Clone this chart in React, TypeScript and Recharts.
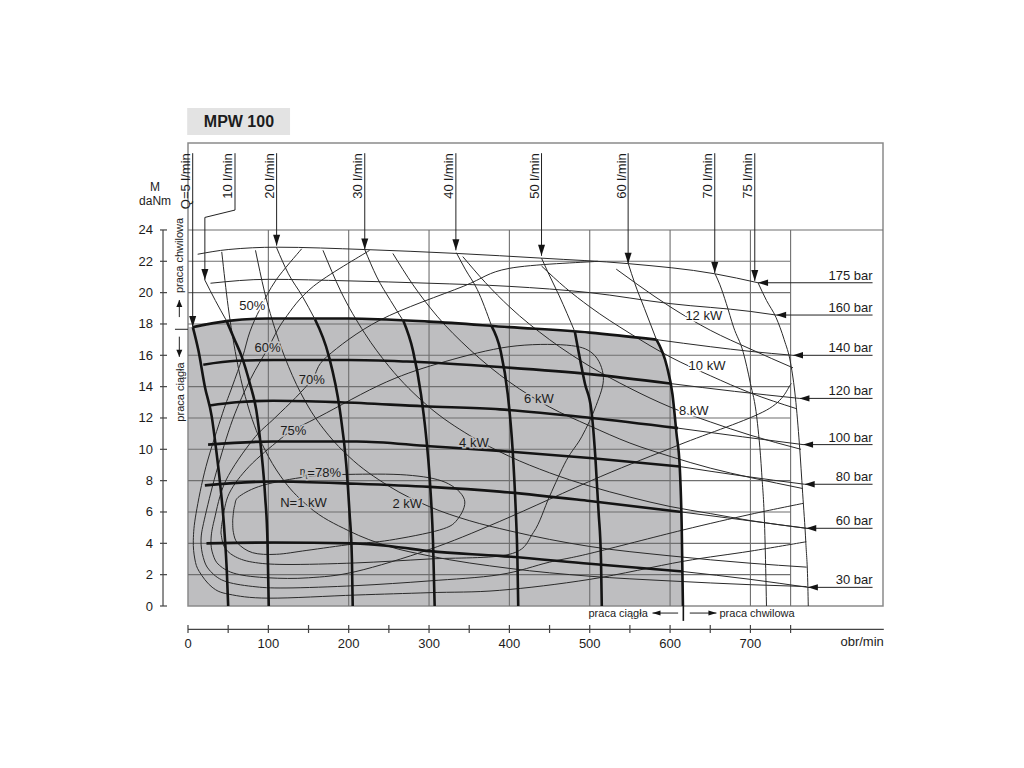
import React from 'react';
import {
  ComposedChart,
  XAxis,
  YAxis,
  Line,
  Area,
  ReferenceLine,
  ReferenceDot,
  ReferenceArea,
} from 'recharts';

type P = [number, number];

// ---------- axes / grid ----------
const xTicks = [0, 50, 100, 150, 200, 250, 300, 350, 400, 450, 500, 550, 600, 650, 700, 750];
const xLabelStep = 100;
const yTicks = [0, 2, 4, 6, 8, 10, 12, 14, 16, 18, 20, 22, 24];
const gridX = [100, 200, 300, 400, 500, 600, 700, 750];
const gridY = [2, 4, 6, 8, 10, 12, 14, 16, 18, 20, 22];
const gridTop = 24;
const gridRight = 750;
const X_MAX = 865;
const Y_MAX = 29.55;

// ---------- pressure lines (M [daNm] vs n [obr/min]) ----------
const p175: P[] = [[12, 22.45], [50, 22.75], [110, 22.9], [220, 22.75], [335, 22.5], [440, 22.2], [548, 21.85], [656, 21.2], [709.5, 20.63]];
const p160: P[] = [[28, 20.6], [100, 20.85], [200, 20.75], [300, 20.6], [400, 20.4], [500, 20.0], [600, 19.3], [700, 18.8], [732, 18.57]];
const p140Thick: P[] = [[6, 17.8], [50, 18.2], [100, 18.35], [200, 18.35], [300, 18.15], [400, 17.8], [500, 17.45], [583, 17.0]];
const p140Thin: P[] = [[583, 17.0], [650, 16.55], [700, 16.25], [753, 16.0]];
const p120Thick: P[] = [[19, 15.4], [60, 15.65], [106, 15.7], [200, 15.7], [272, 15.6], [388, 15.25], [500, 14.8], [600, 14.2]];
const p120Thin: P[] = [[600, 14.2], [680, 13.7], [761, 13.25]];
const p100Thick: P[] = [[27, 12.8], [60, 13.0], [106, 13.1], [189, 13.0], [293, 12.75], [388, 12.55], [502, 12.0], [610, 11.35]];
const p100Thin: P[] = [[610, 11.35], [690, 10.8], [765.5, 10.3]];
const p80Thick: P[] = [[25, 10.3], [106, 10.5], [210, 10.5], [301, 10.2], [388, 9.9], [500, 9.45], [612, 8.9]];
const p80Thin: P[] = [[612, 8.9], [690, 8.3], [767.5, 7.77]];
const p60Thick: P[] = [[21, 7.7], [106, 7.95], [210, 7.8], [301, 7.6], [388, 7.3], [500, 6.7], [614, 6.0]];
const p60Thin: P[] = [[614, 6.0], [690, 5.5], [769.5, 4.96]];
const p30Thick: P[] = [[23, 4.0], [106, 4.05], [206, 4.0], [255, 3.8], [301, 3.5], [388, 3.2], [500, 2.7], [616, 2.2]];
const p30Thin: P[] = [[616, 2.2], [700, 1.7], [771.5, 1.19]];

const pressureLabels = ['175 bar', '160 bar', '140 bar', '120 bar', '100 bar', '80 bar', '60 bar', '30 bar'];
const pressureTips: P[] = [[709.5, 20.63], [732, 18.57], [753, 16.0], [761, 13.25], [765.5, 10.3], [767.5, 7.77], [769.5, 4.96], [771.5, 1.19]];
const pressureLabelX = 852;

// ---------- flow lines ----------
const q5: P[] = [[6, 17.8], [13, 16.3], [21, 14.0], [29.5, 12.1], [35, 10], [40, 7.8], [45, 5], [48.5, 2], [50, 0]];
const q10Thin: P[] = [[21, 20.8], [34, 19.5], [48, 18.2]];
const q10Thick: P[] = [[48, 18.2], [58, 17], [67, 15.9], [77, 14.2], [85, 12.5], [91, 10], [96, 7], [99, 4], [100.5, 0]];
const q20Thin: P[] = [[110, 22.9], [125, 21.2], [142, 19.8], [158, 18.3]];
const q20Thick: P[] = [[158, 18.3], [175, 16], [189, 12.5], [197, 9], [201, 6], [204, 3], [205, 0]];
const q30Thin: P[] = [[220, 22.75], [235, 21], [252, 19.5], [268, 18.2]];
const q30Thick: P[] = [[268, 18.2], [280, 16.3], [290, 13.5], [296, 11], [301, 8], [305, 4], [307, 0]];
const q40Thin: P[] = [[334, 22.55], [345, 21.5], [360, 20.2], [378, 17.85]];
const q40Thick: P[] = [[378, 17.85], [389, 16.3], [398, 13.5], [404, 10], [408, 6], [410, 3], [411, 0]];
const q50Thin: P[] = [[440, 22.2], [448, 21.3], [462, 19.8], [481.5, 17.5]];
const q50Thick: P[] = [[481.5, 17.5], [494, 14.2], [502, 12.5], [507, 9.5], [511, 6], [514, 3], [515, 0]];
const q60Thin: P[] = [[548, 21.85], [556, 20.6], [568, 19], [583, 17.0]];
const q60Thick: P[] = [[583, 17.0], [596, 15.3], [603, 13.5], [608, 11], [612, 8.9], [614.5, 5], [616, 0]];
const q70: P[] = [[656, 21.2], [662, 20.5], [670, 19.3], [679, 17.8], [691, 16.2], [700, 14.2], [708, 12.0], [714, 8.5], [718, 4.5], [720, 0]];
const q75: P[] = [[709.5, 20.63], [720, 19.5], [732, 18.4], [742, 17], [750, 15.5], [756, 13.3], [761, 10.3], [765, 7.2], [769, 4.0], [771.5, 1.2], [772, 0]];

const flowLabels = ['Q=5 l/min', '10 l/min', '20 l/min', '30 l/min', '40 l/min', '50 l/min', '60 l/min', '70 l/min', '75 l/min'];
const flowLeaderX = [5.85, 58.5, 110.3, 220, 333.4, 440, 547.8, 655.6, 705.4];
const flowTipX = [5.85, 21, 110.3, 220, 333.4, 440, 547.8, 655.6, 705.4];
const flowTipY = [17.8, 20.8, 23.0, 22.75, 22.7, 22.35, 21.85, 21.25, 20.75];
const flowLabelTop = 28.9;
const q10Bend: P[] = [[58.5, 25.27], [21, 24.8]];

// ---------- power hyperbolas ----------
const kw1: P[] = [[42, 22.6], [50, 19.1], [60, 15.9], [75, 12.7], [85, 11.2], [100, 9.55], [120, 7.95], [150, 6.35], [200, 4.8], [250, 3.8], [300, 3.2], [400, 2.4], [500, 1.9], [600, 1.6], [700, 1.36], [770, 1.24]];
const kw2: P[] = [[84, 22.7], [95, 20.1], [110, 17.4], [130, 14.7], [150, 12.7], [175, 10.9], [200, 9.55], [250, 7.65], [300, 6.35], [350, 5.45], [400, 4.8], [500, 3.8], [600, 3.2], [700, 2.73], [770, 2.48]];
const kw4: P[] = [[168, 22.7], [190, 20.1], [220, 17.4], [250, 15.3], [300, 12.7], [350, 10.9], [400, 9.55], [450, 8.5], [500, 7.65], [550, 6.95], [600, 6.35], [650, 5.9], [700, 5.45], [770, 4.96]];
const kw6: P[] = [[255, 22.5], [280, 20.5], [310, 18.5], [350, 16.4], [400, 14.3], [450, 12.7], [500, 11.5], [550, 10.4], [600, 9.55], [650, 8.8], [700, 8.2], [765, 7.5]];
const kw8: P[] = [[342, 22.3], [370, 20.65], [400, 19.1], [450, 17.0], [500, 15.3], [550, 13.9], [600, 12.7], [650, 11.75], [700, 10.9], [763, 10.0]];
const kw10: P[] = [[440, 21.7], [470, 20.3], [500, 19.1], [550, 17.4], [600, 15.9], [650, 14.7], [700, 13.6], [757, 12.6]];
const kw12: P[] = [[533, 21.5], [560, 20.5], [600, 19.1], [650, 17.6], [700, 16.4], [753, 15.2]];

const kwLabels = ['N=1 kW', '2 kW', '4 kW', '6 kW', '8 kW', '10 kW', '12 kW'];
const kwLabelPos: P[] = [[143.7, 6.3], [273, 6.25], [355.8, 10.15], [436.7, 12.95], [629.5, 12.19], [646, 15.06], [642, 18.25]];
const kwLabelOnShade = [true, true, true, true, false, false, false];

// ---------- efficiency contours ----------
const eff50: P[] = [[141.5, 22.8], [109.5, 20.8], [90, 19.0], [77, 17.5], [68, 15.9], [55, 14.0], [43, 12.3], [22.4, 8.9], [10, 5.9], [6.6, 4.2], [8.5, 3.0], [14, 2.2], [30, 1.2], [51, 0.75], [101, 0.5], [209, 0.7], [300, 0.85], [388, 1.0], [500, 1.7], [616, 2.85], [700, 3.5], [769.5, 4.1]];
const eff60: P[] = [[226, 22.7], [156, 20.4], [120, 18.3], [99, 16.4], [78, 14.5], [55.6, 11.9], [35, 8.5], [20.3, 5.5], [16.2, 4.2], [19, 3.1], [26.5, 2.3], [45, 1.6], [80, 1.25], [122, 1.15], [209, 1.3], [300, 1.6], [388, 2.0], [450, 2.8], [500, 3.35], [616, 4.85], [700, 5.85], [765.5, 6.55]];
const eff70: P[] = [[510, 22.0], [400, 21.55], [342.5, 20.4], [239, 18.25], [172.5, 15.9], [155, 14.5], [134, 13.3], [108, 12.0], [80.5, 10.6], [47, 8.0], [32.7, 5.5], [28.6, 4.2], [31, 3.3], [39, 2.6], [60, 2.05], [100, 1.8], [150, 1.8], [209, 2.2], [300, 3.6], [388, 5.4], [513, 8.25], [612, 10.3], [720, 12.5], [751, 14.2]];
const eff75: P[] = [[41, 4.66], [43, 5.5], [51.4, 7.2], [76, 8.9], [113.6, 10.6], [130, 11.2], [164, 12.1], [247, 14.3], [320, 15.6], [400, 16.55], [471, 16.65], [504, 16.1], [517, 14.6], [508, 12.8], [490, 10.8], [471, 9.3], [450, 7.0], [430, 4.7], [400, 3.3], [300, 3.0], [209, 2.75], [122, 2.65], [80, 2.8], [57, 3.2], [45, 3.8], [41, 4.66]];
const eff78: P[] = [[55.6, 5.5], [58, 6.4], [64, 7.0], [93, 7.7], [148, 8.25], [200, 8.4], [272, 8.36], [320, 7.9], [344, 6.8], [335, 5.5], [313, 4.85], [251, 4.2], [205, 3.95], [148, 3.55], [110, 3.3], [80.5, 3.4], [62, 4.0], [56.5, 4.7], [55.6, 5.5]];

const effLabels = ['50%', '60%', '70%', '75%'];
const effLabelPos: P[] = [[80, 18.9], [99, 16.2], [154, 14.2], [131, 10.9]];
const effLabelOnShade = [false, true, true, true];
const eta78Label = '=78%';
const eta78Pos: P = [164.8, 8.23];

// ---------- annotations ----------
const title = 'MPW 100';
const titleBox: [number, number, number, number] = [-1, 127, 30.06, 31.78];
const titlePos: P = [63.4, 30.59];
const yUnit = ['M', 'daNm'];
const yUnitPos: P[] = [[-41, 26.5], [-41, 25.6]];
const xUnit = 'obr/min';
const xUnitPos: P = [866, -2.55];
const xAxisLineY = -1.49;
const yAxisLineX = -31.1;
const sideTexts = ['praca chwilowa', 'praca ciągła'];
const sideTextPos: P[] = [[-6.2, 22.37], [-5, 13.66]];
const sideUp: P[] = [[-10.8, 18.44], [-10.8, 19.53]];
const sideDown: P[] = [[-10.8, 17.19], [-10.8, 15.9]];
const sideTick: P[] = [[-16.2, 17.66], [0, 17.66]];
const bottomTexts = ['praca ciągła', 'praca chwilowa'];
const bottomTextPos: P[] = [[572.3, -0.72], [661.5, -0.72]];
const bottomLeftArrow: P[] = [[610, -0.45], [578.1, -0.45]];
const bottomRightArrow: P[] = [[624.5, -0.45], [657.7, -0.45]];
const bottomSep: P[] = [[616.5, 0], [616.5, -0.95]];

// ---------- styling ----------
const FONT = '"Liberation Sans", Arial, Helvetica, sans-serif';
const SHADE = '#bebec0';
const INK = '#141414';
const THIN = '#2a2a2a';
const GRID = '#6f6f6f';

const pts = (a: P[]) => a.map(([x, y]) => ({ x, y }));

// Catmull-Rom curve factory for closed / non-monotone contours
const catmull: any = (context: any) => {
  let p: number[][] = [];
  return {
    areaStart() {},
    areaEnd() {},
    lineStart() {
      p = [];
    },
    lineEnd() {
      const n = p.length;
      if (!n) return;
      context.moveTo(p[0][0], p[0][1]);
      if (n === 2) context.lineTo(p[1][0], p[1][1]);
      if (n < 3) return;
      for (let i = 0; i < n - 1; i++) {
        const p0 = p[i === 0 ? 0 : i - 1];
        const p1 = p[i];
        const p2 = p[i + 1];
        const p3 = p[i + 2 < n ? i + 2 : n - 1];
        const t = 1 / 6;
        context.bezierCurveTo(
          p1[0] + (p2[0] - p0[0]) * t,
          p1[1] + (p2[1] - p0[1]) * t,
          p2[0] - (p3[0] - p1[0]) * t,
          p2[1] - (p3[1] - p1[1]) * t,
          p2[0],
          p2[1]
        );
      }
    },
    point(x: number, y: number) {
      p.push([+x, +y]);
    },
  };
};

const series = (key: string, arr: P[], thick: boolean, type: any = 'monotone') => (
  <Line
    key={key}
    data={pts(arr)}
    dataKey="y"
    type={type}
    stroke={thick ? INK : THIN}
    strokeWidth={thick ? 2.6 : 1}
    dot={false}
    activeDot={false}
    isAnimationActive={false}
    legendType="none"
  />
);

const seg = (key: string, a: P, b: P, stroke = '#333', w = 1) => (
  <ReferenceLine
    key={key}
    segment={[{ x: a[0], y: a[1] }, { x: b[0], y: b[1] }]}
    stroke={stroke}
    strokeWidth={w}
    ifOverflow="visible"
  />
);

const note = (key: string, at: P, render: (cx: number, cy: number) => React.ReactElement) => (
  <ReferenceDot
    key={key}
    x={at[0]}
    y={at[1]}
    r={0}
    ifOverflow="visible"
    shape={(p: any) => render(p.cx, p.cy)}
  />
);

const textEl = (
  cx: number,
  cy: number,
  s: React.ReactNode,
  opts: { anchor?: string; size?: number; bold?: boolean; rotate?: boolean; halo?: string; dy?: number } = {}
) => (
  <text
    x={cx}
    y={cy + (opts.dy || 0)}
    textAnchor={opts.anchor || 'middle'}
    fontSize={opts.size || 13}
    fontWeight={opts.bold ? 700 : 400}
    fontFamily={FONT}
    fill="#1c1c1c"
    transform={opts.rotate ? `rotate(-90 ${cx} ${cy})` : undefined}
    stroke={opts.halo}
    strokeWidth={opts.halo ? 3 : 0}
    paintOrder="stroke"
  >
    {s}
  </text>
);

const arrowDown = (cx: number, cy: number) => (
  <polygon points={`${cx},${cy} ${cx - 3.5},${cy - 11} ${cx + 3.5},${cy - 11}`} fill={INK} />
);
const arrowUp = (cx: number, cy: number) => (
  <polygon points={`${cx},${cy} ${cx - 3},${cy + 7} ${cx + 3},${cy + 7}`} fill={INK} />
);
const arrowLeft = (cx: number, cy: number, l = 10, h = 3.2) => (
  <polygon points={`${cx},${cy} ${cx + l},${cy - h} ${cx + l},${cy + h}`} fill={INK} />
);
const arrowRight = (cx: number, cy: number) => (
  <polygon points={`${cx},${cy} ${cx - 8},${cy - 2.5} ${cx - 8},${cy + 2.5}`} fill={INK} />
);

const XTick = (p: any) => {
  const v = p.payload.value;
  return (
    <g>
      <line x1={p.x} x2={p.x} y1={p.y + 19} y2={p.y + 27} stroke="#444" strokeWidth={1.2} />
      {v % xLabelStep === 0 ? (
        <text x={p.x} y={p.y + 42} textAnchor="middle" fontSize={13} fontFamily={FONT} fill="#1c1c1c">
          {v}
        </text>
      ) : null}
    </g>
  );
};

const YTick = (p: any) => (
  <g>
    <line x1={p.x - 28} x2={p.x - 21} y1={p.y} y2={p.y} stroke="#444" strokeWidth={1.2} />
    <text x={p.x - 35} y={p.y + 4.5} textAnchor="end" fontSize={13} fontFamily={FONT} fill="#1c1c1c">
      {p.payload.value}
    </text>
  </g>
);

const shadeTop: P[] = [[0, p140Thick[0][1]], ...p140Thick, ...q60Thick.slice(1)];

export default function App() {
  return (
    <div style={{ fontFamily: FONT, background: '#fff' }}>
      <ComposedChart width={1000} height={740} margin={{ top: 135, right: 125, bottom: 92, left: 140 }}>
        <XAxis
          type="number"
          dataKey="x"
          domain={[0, X_MAX]}
          allowDataOverflow
          ticks={xTicks}
          interval={0}
          tickSize={0}
          tickMargin={0}
          axisLine={false}
          tickLine={false}
          tick={XTick}
          height={50}
        />
        <YAxis
          type="number"
          domain={[0, Y_MAX]}
          allowDataOverflow
          ticks={yTicks}
          interval={0}
          tickSize={0}
          tickMargin={0}
          axisLine={false}
          tickLine={false}
          tick={YTick}
          width={40}
        />

        {/* continuous-operation shaded field */}
        <Area
          data={pts(shadeTop)}
          dataKey="y"
          type="monotone"
          stroke="none"
          fill={SHADE}
          fillOpacity={1}
          isAnimationActive={false}
          activeDot={false}
          legendType="none"
        />

        {/* grid */}
        {gridX.map((gx) => seg(`gx${gx}`, [gx, 0], [gx, gridTop], GRID, 1.1))}
        {gridY.map((gy) => seg(`gy${gy}`, [0, gy], [gridRight, gy], GRID, 1.1))}
        {seg('gtop', [0, gridTop], [X_MAX, gridTop], GRID, 1.1)}

        {/* frame */}
        <ReferenceArea x1={0} x2={X_MAX} y1={0} y2={Y_MAX} fill="none" stroke="#8a8a8a" strokeWidth={1.5} ifOverflow="visible" />

        {/* efficiency contours */}
        {series('e50', eff50, false, catmull)}
        {series('e60', eff60, false, catmull)}
        {series('e70', eff70, false, catmull)}
        {series('e75', eff75, false, catmull)}
        {series('e78', eff78, false, catmull)}

        {/* power hyperbolas */}
        {series('k1', kw1, false)}
        {series('k2', kw2, false)}
        {series('k4', kw4, false)}
        {series('k6', kw6, false)}
        {series('k8', kw8, false)}
        {series('k10', kw10, false)}
        {series('k12', kw12, false)}

        {/* pressure lines */}
        {series('p175', p175, false)}
        {series('p160', p160, false)}
        {series('p140t', p140Thin, false)}
        {series('p120t', p120Thin, false)}
        {series('p100t', p100Thin, false)}
        {series('p80t', p80Thin, false)}
        {series('p60t', p60Thin, false)}
        {series('p30t', p30Thin, false)}
        {series('p140', p140Thick, true)}
        {series('p120', p120Thick, true)}
        {series('p100', p100Thick, true)}
        {series('p80', p80Thick, true)}
        {series('p60', p60Thick, true)}
        {series('p30', p30Thick, true)}

        {/* flow lines */}
        {series('q10t', q10Thin, false)}
        {series('q20t', q20Thin, false)}
        {series('q30t', q30Thin, false)}
        {series('q40t', q40Thin, false)}
        {series('q50t', q50Thin, false)}
        {series('q60t', q60Thin, false)}
        {series('q70', q70, false)}
        {series('q75', q75, false)}
        {series('q5', q5, true)}
        {series('q10', q10Thick, true)}
        {series('q20', q20Thick, true)}
        {series('q30', q30Thick, true)}
        {series('q40', q40Thick, true)}
        {series('q50', q50Thick, true)}
        {series('q60', q60Thick, true)}

        {/* flow leaders, arrows and labels */}
        {flowLabels.map((lab, i) =>
          i === 1 ? (
            <React.Fragment key={`fl${i}`}>
              {seg(`fla${i}`, [flowLeaderX[i], flowLabelTop], q10Bend[0], '#222', 1)}
              {seg(`flb${i}`, q10Bend[0], q10Bend[1], '#222', 1)}
              {seg(`flc${i}`, q10Bend[1], [flowTipX[i], flowTipY[i]], '#222', 1)}
            </React.Fragment>
          ) : (
            seg(`fl${i}`, [flowLeaderX[i], flowLabelTop], [flowTipX[i], flowTipY[i]], '#222', 1)
          )
        )}
        {flowLabels.map((lab, i) => note(`fa${i}`, [flowTipX[i], flowTipY[i]], arrowDown))}
        {flowLabels.map((lab, i) =>
          note(`ft${i}`, [flowLeaderX[i], flowLabelTop], (cx, cy) => textEl(cx - 2.5, cy, lab, { anchor: 'end', rotate: true }))
        )}

        {/* pressure leaders, arrows and labels */}
        {pressureLabels.map((lab, i) => seg(`pl${i}`, pressureTips[i], [pressureLabelX, pressureTips[i][1]], '#222', 1))}
        {pressureLabels.map((lab, i) => note(`pa${i}`, pressureTips[i], (cx, cy) => arrowLeft(cx, cy)))}
        {pressureLabels.map((lab, i) =>
          note(`pt${i}`, [pressureLabelX, pressureTips[i][1]], (cx, cy) => textEl(cx, cy, lab, { anchor: 'end', dy: -3 }))
        )}

        {/* kW labels */}
        {kwLabels.map((lab, i) =>
          note(`kl${i}`, kwLabelPos[i], (cx, cy) => textEl(cx, cy, lab, { halo: kwLabelOnShade[i] ? SHADE : '#fff' }))
        )}
        {/* efficiency labels */}
        {effLabels.map((lab, i) =>
          note(`el${i}`, effLabelPos[i], (cx, cy) => textEl(cx, cy, lab, { halo: effLabelOnShade[i] ? SHADE : '#fff' }))
        )}
        {note('eta', eta78Pos, (cx, cy) =>
          textEl(
            cx,
            cy,
            <>
              <tspan fontSize={10} dy={-2}>η</tspan>
              <tspan fontSize={7} dy={4}>t</tspan>
              <tspan dy={-2}>{eta78Label}</tspan>
            </>,
            { halo: SHADE }
          )
        )}

        {/* axes lines and units */}
        {seg('xaxis', [0, xAxisLineY], [X_MAX + 1, xAxisLineY], '#444', 1.2)}
        {seg('yaxis', [yAxisLineX, 0], [yAxisLineX, gridTop], '#444', 1.2)}
        {note('yu0', yUnitPos[0], (cx, cy) => textEl(cx, cy, yUnit[0], { size: 12 }))}
        {note('yu1', yUnitPos[1], (cx, cy) => textEl(cx, cy, yUnit[1], { size: 12 }))}
        {note('xu', xUnitPos, (cx, cy) => textEl(cx, cy, xUnit, { anchor: 'end' }))}

        {/* title */}
        <ReferenceArea x1={titleBox[0]} x2={titleBox[1]} y1={titleBox[2]} y2={titleBox[3]} fill="#c8c8c8" stroke="none" ifOverflow="visible" />
        {note('title', titlePos, (cx, cy) => textEl(cx, cy, title, { size: 16, bold: true }))}

        {/* side annotation: continuous / intermittent */}
        {note('s0', sideTextPos[0], (cx, cy) => textEl(cx, cy, sideTexts[0], { size: 11, rotate: true }))}
        {note('s1', sideTextPos[1], (cx, cy) => textEl(cx, cy, sideTexts[1], { size: 11, rotate: true }))}
        {seg('su', sideUp[0], sideUp[1], '#222', 1)}
        {note('sua', sideUp[1], arrowUp)}
        {seg('sd', sideDown[0], sideDown[1], '#222', 1)}
        {note('sda', sideDown[1], (cx, cy) => (
          <polygon points={`${cx},${cy} ${cx - 3},${cy - 7} ${cx + 3},${cy - 7}`} fill={INK} />
        ))}
        {seg('st', sideTick[0], sideTick[1], '#222', 1)}

        {/* bottom annotation */}
        {note('b0', bottomTextPos[0], (cx, cy) => textEl(cx, cy, bottomTexts[0], { size: 11, anchor: 'end' }))}
        {note('b1', bottomTextPos[1], (cx, cy) => textEl(cx, cy, bottomTexts[1], { size: 11, anchor: 'start' }))}
        {seg('bl', bottomLeftArrow[0], bottomLeftArrow[1], '#222', 1)}
        {note('bla', bottomLeftArrow[1], (cx, cy) => arrowLeft(cx, cy, 8, 2.5))}
        {seg('br', bottomRightArrow[0], bottomRightArrow[1], '#222', 1)}
        {note('bra', bottomRightArrow[1], arrowRight)}
        {seg('bs', bottomSep[0], bottomSep[1], INK, 1.6)}
      </ComposedChart>
    </div>
  );
}
